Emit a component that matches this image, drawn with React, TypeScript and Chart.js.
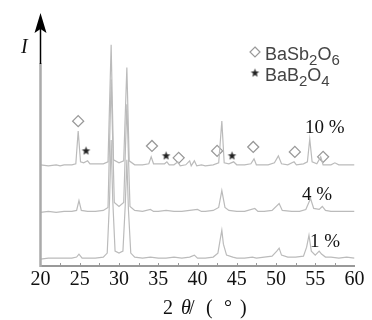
import React, { useEffect, useRef } from 'react';
import { Chart, registerables } from 'chart.js';

Chart.register(...registerables);

// x-axis (2θ, degrees)
const xTicks = [20, 25, 30, 35, 40, 45, 50, 55, 60];
const minorTicks = [22.5, 25, 27.5, 30, 32.5, 35, 37.5, 40, 42.5, 45, 47.5, 50, 52.5, 55, 57.5];

// series names and vertical offsets (stacked patterns)
const seriesNames = ['1 %', '4 %', '10 %'];
const seriesOffsets = [7, 54, 101];

// XRD patterns: [2θ, relative intensity]
const pattern1: number[][] = [
  [20, 0], [21, 1], [22, 1], [23, 1], [24, 1], [24.6, 2], [24.9, 5], [25.3, 1], [26, 1], [27, 1],
  [28, 2], [28.5, 6], [28.8, 60], [29.0, 120], [29.2, 60], [29.5, 8], [30, 6], [30.5, 8], [30.8, 55],
  [31.0, 100], [31.2, 50], [31.5, 6], [32, 2], [33, 1], [34, 2], [35, 1], [36, 1], [37, 2], [38, 1],
  [39, 2], [39.6, 4], [40, 1], [41, 1], [42, 2], [42.6, 6], [42.9, 20], [43.1, 29], [43.3, 15],
  [43.7, 4], [44.5, 2], [45, 1], [46, 1], [47, 2], [47.5, 1], [48.5, 2], [49.5, 3], [50.1, 8],
  [50.4, 11], [50.7, 4], [51.5, 2], [52.5, 2], [53.5, 3], [53.9, 12], [54.2, 24], [54.5, 8], [55, 4],
  [55.5, 8], [55.8, 5], [56.3, 2], [57, 2], [58, 1], [59, 2], [60, 1],
];
const pattern4: number[][] = [
  [20, 0], [21, 1], [22, 0], [23, 1], [24, 1], [24.6, 2], [24.9, 12], [25.2, 2], [26, 1], [27, 1],
  [28, 2], [28.6, 5], [29.0, 134], [29.4, 10], [30, 6], [30.6, 10], [31.0, 109], [31.4, 6], [32, 2],
  [33, 1], [34, 3], [34.4, 1], [35, 1], [36, 2], [37, 1], [38, 1], [39, 2], [40, 3], [40.5, 1],
  [41, 1], [42, 2], [42.7, 5], [43.1, 22], [43.5, 5], [44, 2], [45, 1], [46, 1], [47.3, 4], [47.7, 1],
  [48.5, 1], [49.5, 2], [50.4, 9], [50.8, 2], [52, 1], [53, 1], [53.8, 3], [54.4, 14], [54.8, 4],
  [55.5, 3], [55.9, 6], [56.3, 2], [57, 1], [58, 1], [59, 1], [60, 1],
];
const pattern10: number[][] = [
  [20, 1], [21, 0], [22, 1], [22.5, 0], [23, 1], [24, 1], [24.5, 2], [24.8, 35], [25.1, 4], [25.5, 3],
  [26, 5], [26.3, 2], [27, 2], [28, 2], [28.6, 4], [29.0, 122], [29.3, 6], [30, 3], [30.6, 5],
  [31.0, 99], [31.3, 5], [32, 1], [33, 1], [33.8, 2], [34.1, 9], [34.4, 2], [35, 2], [35.8, 2],
  [36.1, 4], [36.4, 1], [37, 1], [37.5, 4], [37.8, 0], [38.5, 1], [39, 5], [39.2, 0], [39.6, 5],
  [39.9, 0], [40.5, 1], [41, 0], [42, 1], [42.7, 3], [43.1, 45], [43.4, 3], [44, 2], [44.6, 4],
  [45, 1], [46, 1], [46.8, 2], [47.2, 7], [47.5, 1], [48, 1], [49, 1], [49.8, 3], [50.3, 10],
  [50.7, 2], [51.5, 1], [52.3, 4], [52.6, 1], [53.5, 2], [54.0, 4], [54.3, 27], [54.6, 4], [55.2, 2],
  [55.7, 9], [56, 1], [57, 1], [57.5, 3], [58, 1], [59, 1], [60, 1],
];

// phase markers on the 10 % pattern: [2θ, height]
const basb2o6Marks: number[][] = [
  [24.8, 146], [34.2, 121], [37.6, 109], [42.5, 116], [47.1, 120], [52.4, 115], [56.0, 110],
];
const bab2o4Marks: number[][] = [[25.8, 116], [36.0, 111], [44.4, 111]];

const legendLabels = ['BaSb2O6', 'BaB2O4'];

const SERIF = '"Liberation Serif", "Times New Roman", serif';
const SANS = '"Liberation Sans", Arial, sans-serif';

function makeStar(r: number, color: string): HTMLCanvasElement {
  const c = document.createElement('canvas');
  const s = Math.ceil(r * 2 + 2);
  c.width = s;
  c.height = s;
  const g = c.getContext('2d')!;
  g.fillStyle = color;
  g.beginPath();
  for (let i = 0; i < 10; i++) {
    const rr = i % 2 === 0 ? r : r * 0.42;
    const a = -Math.PI / 2 + (i * Math.PI) / 5;
    const px = s / 2 + rr * Math.cos(a);
    const py = s / 2 + rr * Math.sin(a);
    if (i === 0) g.moveTo(px, py);
    else g.lineTo(px, py);
  }
  g.closePath();
  g.fill();
  return c;
}

function drawFormula(ctx: CanvasRenderingContext2D, text: string, x: number, y: number) {
  let cx = x;
  for (const ch of text) {
    const isDigit = ch >= '0' && ch <= '9';
    ctx.font = isDigit ? `15px ${SANS}` : `18px ${SANS}`;
    ctx.fillText(ch, cx, isDigit ? y + 5 : y);
    cx += ctx.measureText(ch).width;
  }
}

const overlayPlugin = {
  id: 'overlay',
  afterDraw(chart: any) {
    const ctx: CanvasRenderingContext2D = chart.ctx;
    const area = chart.chartArea;
    const xs = chart.scales.x;
    ctx.save();
    // minor inward ticks
    ctx.strokeStyle = '#999';
    ctx.lineWidth = 1;
    for (const v of minorTicks) {
      const px = Math.round(xs.getPixelForValue(v)) + 0.5;
      ctx.beginPath();
      ctx.moveTo(px, area.bottom);
      ctx.lineTo(px, area.bottom - 3);
      ctx.stroke();
    }
    // y axis (grey part)
    const ax = area.left;
    ctx.strokeStyle = '#aaa';
    ctx.lineWidth = 2.5;
    ctx.beginPath();
    ctx.moveTo(ax, area.bottom + 1);
    ctx.lineTo(ax, 63);
    ctx.stroke();
    // black arrow part
    ctx.strokeStyle = '#000';
    ctx.lineWidth = 1.5;
    ctx.beginPath();
    ctx.moveTo(ax, 64);
    ctx.lineTo(ax, 26);
    ctx.stroke();
    ctx.fillStyle = '#000';
    ctx.beginPath();
    ctx.moveTo(ax, 13);
    ctx.lineTo(ax + 6, 33);
    ctx.lineTo(ax, 29);
    ctx.lineTo(ax - 6, 33);
    ctx.closePath();
    ctx.fill();
    // y label
    ctx.fillStyle = '#111';
    ctx.font = `italic 20px ${SERIF}`;
    ctx.textBaseline = 'alphabetic';
    ctx.textAlign = 'left';
    ctx.fillText('I', 21, 53);
    // x title: 2 θ/（°  ）
    ctx.font = `20px ${SERIF}`;
    ctx.fillText('2', 163, 314);
    ctx.font = `italic 20px ${SERIF}`;
    ctx.fillText('θ', 181, 314);
    ctx.font = `20px ${SERIF}`;
    ctx.fillText('/', 189, 314);
    ctx.fillText('(', 206, 314);
    ctx.fillText('°', 224, 314);
    ctx.fillText(')', 240, 314);
    // series labels
    ctx.font = `19px ${SERIF}`;
    ctx.fillText(seriesNames[2], 305, 133);
    ctx.fillText(seriesNames[1], 302, 200);
    ctx.fillText(seriesNames[0], 310, 247);
    // legend
    ctx.strokeStyle = '#999';
    ctx.lineWidth = 1.2;
    ctx.beginPath();
    ctx.moveTo(255, 47);
    ctx.lineTo(260, 52);
    ctx.lineTo(255, 57);
    ctx.lineTo(250, 52);
    ctx.closePath();
    ctx.stroke();
    const star = makeStar(4.5, '#222');
    ctx.drawImage(star, 255 - star.width / 2, 73 - star.height / 2);
    ctx.fillStyle = '#444';
    drawFormula(ctx, legendLabels[0], 265, 60);
    drawFormula(ctx, legendLabels[1], 265, 81);
    ctx.restore();
  },
};

export default function App() {
  const ref = useRef<HTMLCanvasElement>(null);
  useEffect(() => {
    if (!ref.current) return;
    const patterns = [pattern1, pattern4, pattern10];
    const lineSets = patterns.map((p, i) => ({
      label: seriesNames[i],
      data: p.map(([x, y]) => ({ x, y: y + seriesOffsets[i] })),
      borderColor: '#bbbbbb',
      borderWidth: 1.2,
      pointRadius: 0,
      tension: 0,
      fill: false,
    }));
    const starImg = makeStar(4.5, '#222');
    const chart = new Chart(ref.current, {
      type: 'line',
      data: {
        datasets: [
          ...lineSets,
          {
            label: legendLabels[0],
            data: basb2o6Marks.map(([x, y]) => ({ x, y })),
            showLine: false,
            pointStyle: 'rectRot',
            pointRadius: 5.5,
            borderColor: '#999',
            backgroundColor: '#fff',
            borderWidth: 1.3,
          } as any,
          {
            label: legendLabels[1],
            data: bab2o4Marks.map(([x, y]) => ({ x, y })),
            showLine: false,
            pointStyle: starImg,
            pointRadius: 5,
            borderColor: '#222',
            backgroundColor: '#222',
          } as any,
        ],
      },
      options: {
        responsive: false,
        animation: false,
        layout: { padding: { left: 40.5, right: 17.5, top: 14, bottom: 26 } },
        plugins: { legend: { display: false }, tooltip: { enabled: false } },
        scales: {
          x: {
            type: 'linear',
            min: 20,
            max: 60,
            afterBuildTicks: (s: any) => {
              s.ticks = xTicks.map((v) => ({ value: v }));
            },
            grid: { display: false, drawTicks: false },
            border: { display: true, color: '#999', width: 2 },
            ticks: {
              padding: 2,
              color: '#111',
              font: { family: SERIF, size: 20 },
              maxRotation: 0,
              autoSkip: false,
            },
          },
          y: { display: false, min: 0, max: 254 },
        },
      },
      plugins: [overlayPlugin],
    });
    return () => chart.destroy();
  }, []);
  return (
    <div style={{ position: 'absolute', left: 0, top: 0, width: 372, height: 320, background: '#fff' }}>
      <canvas ref={ref} width={372} height={320} />
    </div>
  );
}
